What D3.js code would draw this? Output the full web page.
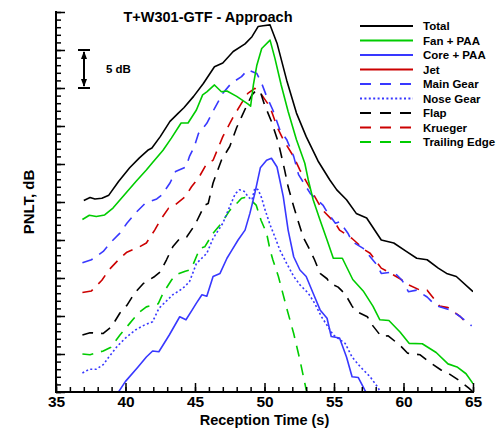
<!DOCTYPE html>
<html>
<head>
<meta charset="utf-8">
<script src="https://cdn.jsdelivr.net/npm/d3@7"></script>
<style>
  html, body { margin: 0; padding: 0; background: #fff; }
  svg { display: block; font-family: "Liberation Sans", Arial, Helvetica, sans-serif; }
</style>
</head>
<body>
<svg id="chart" width="498" height="429"></svg>
<script>
// PNLT time histories per noise component, [reception time (s), PNLT (dB)]
const total = [[37.0,75.2],[37.45,75.6],[37.8,75.4],[38.3,75.5],[38.8,75.9],[39.5,77.7],[40.3,79.5],[41.0,80.8],[41.6,81.8],[41.9,82.1],[42.5,83.6],[43.2,85.6],[43.8,86.7],[44.2,87.4],[44.9,88.9],[45.6,90.6],[46.4,92.8],[47.0,93.3],[47.75,94.8],[48.6,95.8],[49.1,96.75],[49.55,98.1],[49.9,98.2],[50.4,98.3],[50.9,95.9],[51.6,91.0],[52.3,86.7],[53.0,83.6],[53.85,80.4],[54.7,77.9],[55.2,76.6],[55.9,75.3],[56.6,73.5],[57.35,72.9],[58.4,70.0],[59.3,69.6],[60.2,68.5],[60.95,67.6],[61.7,67.4],[62.5,66.3],[63.1,65.6],[63.8,65.2],[65.0,63.2]];
const fanPaa = [[36.9,72.7],[37.4,73.25],[37.9,73.1],[38.5,73.3],[39.1,74.2],[39.8,75.7],[40.75,77.7],[41.5,79.2],[41.95,80.2],[42.7,81.8],[43.3,83.4],[44.0,85.4],[44.5,85.4],[45.1,87.1],[45.55,89.1],[45.85,89.5],[46.4,90.4],[46.9,89.5],[47.3,89.6],[48.0,88.9],[48.8,87.9],[49.0,87.6],[49.2,90.4],[49.45,93.0],[49.8,95.2],[50.4,96.3],[50.75,93.9],[51.2,90.4],[51.7,86.9],[52.3,83.2],[52.9,80.1],[53.15,77.9],[53.5,75.3],[54.0,72.6],[54.5,70.0],[54.95,67.6],[55.6,67.6],[56.35,64.8],[57.1,63.3],[57.8,61.3],[58.3,59.5],[58.95,59.4],[59.75,57.9],[60.4,56.4],[61.35,56.35],[62.35,55.2],[63.2,53.7],[63.85,53.3],[64.5,52.4],[65.0,51.1]];
const corePaa = [[39.35,49.6],[40.0,51.4],[40.9,53.3],[41.5,54.6],[41.95,55.4],[42.4,55.3],[43.15,57.5],[43.9,59.9],[44.35,59.5],[44.8,60.8],[45.1,61.7],[45.5,62.8],[45.85,62.6],[46.3,65.2],[46.8,65.6],[47.3,67.6],[47.6,68.5],[48.1,70.0],[48.6,71.3],[48.95,73.5],[49.3,76.1],[49.7,79.5],[50.15,80.5],[50.5,80.75],[50.9,79.6],[51.1,77.9],[51.35,75.7],[51.7,71.3],[52.1,67.8],[52.55,66.05],[53.0,65.2],[53.5,63.0],[54.0,60.8],[54.5,59.7],[54.8,57.3],[55.4,57.1],[55.9,54.6],[56.3,52.0],[56.75,51.9],[57.2,50.3],[57.45,49.5]];
// jet noise stays below the plotted range
const jet = [];
const mainGear = [[36.9,67.0],[37.55,67.4],[38.4,68.5],[39.0,69.8],[39.6,70.9],[40.1,72.2],[40.8,73.7],[41.4,74.8],[42.25,75.4],[42.6,75.9],[43.2,77.5],[43.6,79.0],[44.35,79.6],[44.6,81.0],[44.95,82.3],[45.25,84.0],[45.85,85.35],[46.4,87.3],[47.0,89.3],[47.6,90.6],[48.35,91.5],[48.8,92.4],[49.45,91.9],[49.8,90.6],[50.15,88.9],[50.6,87.1],[51.1,84.5],[51.6,83.2],[52.1,81.0],[52.45,78.6],[53.3,76.1],[54.2,74.6],[54.5,73.7],[55.1,72.2],[55.4,72.4],[56.0,70.9],[56.3,69.8],[57.1,68.9],[58.1,66.7],[58.4,65.6],[59.3,65.8],[59.9,64.7],[60.35,63.2],[60.95,63.4],[61.7,62.5],[62.3,61.4],[63.35,60.8],[64.1,59.9],[64.9,58.7]];
const noseGear = [[36.9,52.5],[37.4,53.0],[37.9,53.0],[38.4,53.6],[38.8,54.6],[39.4,56.0],[40.0,57.1],[40.75,58.2],[41.35,58.8],[41.95,59.25],[42.4,61.0],[42.9,61.9],[43.4,62.8],[44.1,63.6],[44.6,64.5],[45.1,66.9],[45.85,68.25],[46.3,70.2],[47.0,72.2],[47.5,74.4],[47.9,76.1],[48.2,76.6],[48.6,76.35],[48.8,75.7],[49.1,75.3],[49.3,76.8],[49.55,76.6],[49.8,75.5],[50.0,74.2],[50.4,72.0],[50.75,70.4],[51.1,68.7],[51.6,66.9],[52.1,65.2],[52.55,64.1],[53.15,63.0],[53.6,61.7],[54.1,59.9],[54.95,57.5],[55.8,56.4],[56.3,54.6],[56.9,53.3],[57.6,52.0],[58.2,50.5],[58.4,49.5]];
const flap = [[36.9,57.5],[37.45,57.8],[38.4,57.7],[39.0,58.6],[39.6,60.4],[40.1,61.4],[40.65,63.0],[41.3,64.3],[42.1,65.2],[42.5,65.8],[42.95,67.4],[43.4,69.1],[43.9,70.2],[44.4,70.4],[45.0,72.0],[45.4,73.5],[45.7,74.6],[45.95,74.8],[46.3,77.5],[46.9,80.5],[47.5,82.3],[48.0,84.8],[48.35,86.2],[48.8,88.0],[49.1,89.1],[49.4,89.7],[49.7,89.5],[50.0,87.8],[50.5,85.6],[51.0,82.8],[51.45,79.2],[51.7,77.0],[52.1,74.4],[52.4,72.6],[52.8,70.3],[53.15,69.1],[53.6,67.4],[54.0,65.6],[54.5,64.9],[54.7,64.3],[55.3,63.8],[55.8,62.9],[56.3,61.3],[56.6,60.6],[57.4,59.9],[57.8,58.7],[58.4,57.3],[58.9,57.4],[59.8,56.05],[60.3,55.1],[61.2,54.9],[61.8,54.0],[62.7,52.9],[63.2,52.5],[64.1,51.4],[64.7,50.5],[64.95,50.1]];
const krueger = [[36.9,63.1],[37.55,63.3],[38.3,64.7],[38.8,66.05],[39.5,67.4],[40.1,68.4],[41.0,69.1],[41.5,69.6],[42.1,71.3],[42.5,72.6],[43.1,74.2],[43.55,74.6],[44.3,75.7],[44.75,77.0],[45.3,78.3],[45.8,79.9],[46.3,80.5],[47.0,83.6],[47.75,86.2],[48.35,88.0],[48.8,89.3],[49.3,89.96],[49.8,89.1],[50.4,87.5],[50.9,84.9],[51.35,83.2],[52.1,80.96],[52.55,79.2],[53.0,77.7],[53.5,76.1],[53.9,74.8],[54.2,73.9],[55.1,72.2],[55.4,71.3],[56.3,70.2],[56.6,69.7],[57.2,68.7],[57.6,68.25],[58.4,66.3],[58.9,65.8],[59.75,64.9],[60.35,64.1],[61.2,63.4],[61.7,63.4],[62.6,61.3],[63.2,61.1],[64.1,59.9],[64.7,58.7]];
const trailingEdge = [[36.9,55.0],[37.45,54.9],[38.4,55.4],[38.95,55.9],[39.6,57.5],[40.2,58.8],[40.9,60.35],[41.5,61.2],[42.35,61.6],[42.7,63.0],[43.3,64.7],[43.6,65.4],[44.3,65.9],[44.6,66.05],[44.8,66.5],[45.35,68.9],[45.7,69.1],[46.3,70.9],[46.9,72.2],[47.5,73.9],[48.1,75.0],[48.35,75.5],[48.6,75.6],[49.1,75.1],[49.4,74.6],[49.75,72.6],[50.15,70.9],[50.4,68.7],[50.6,67.4],[51.0,65.2],[51.6,61.0],[52.1,57.7],[52.55,54.2],[53.0,50.3],[53.15,49.5]];

const seriesNames = ["Total", "Fan + PAA", "Core + PAA", "Jet", "Main Gear", "Nose Gear", "Flap", "Krueger", "Trailing Edge"];
const seriesData = [total, fanPaa, corePaa, jet, mainGear, noseGear, flap, krueger, trailingEdge];
const seriesColors = ["#000000", "#00cc00", "#3838ff", "#cc0000", "#3838ff", "#3838ff", "#000000", "#cc0000", "#00cc00"];
const seriesDash = ["none", "none", "none", "none", "11,8", "2,2.4", "11,8", "11,8", "11,8"];

const xTicks = [35, 40, 45, 50, 55, 60, 65];
const chartTitle = "T+W301-GTF - Approach";
const xTitle = "Reception Time (s)";
const yTitle = "PNLT, dB";
const scaleBarLabel = "5 dB";

const svg = d3.select("#chart");
const margin = { left: 56, right: 25, top: 12, bottom: 37 };
const W = 498, H = 429;
const x = d3.scaleLinear().domain([35, 65]).range([margin.left, W - margin.right]);
const y = d3.scaleLinear().domain([50, 100]).range([H - margin.bottom, margin.top]);

svg.append("defs").append("clipPath").attr("id", "plotClip")
  .append("rect")
  .attr("x", x(35)).attr("y", y(100))
  .attr("width", x(65) - x(35)).attr("height", y(50) - y(100));

// Curves
const line = d3.line().x(d => x(d[0])).y(d => y(d[1]));
const plot = svg.append("g").attr("clip-path", "url(#plotClip)");
const drawOrder = [8, 7, 6, 5, 4, 3, 2, 1, 0];
drawOrder.forEach(i => {
  if (!seriesData[i].length) return;
  plot.append("path")
    .datum(seriesData[i])
    .attr("fill", "none")
    .attr("stroke", seriesColors[i])
    .attr("stroke-width", 1.6)
    .attr("stroke-dasharray", seriesDash[i])
    .attr("stroke-linejoin", "round")
    .attr("d", line);
});

// Bottom axis: major ticks every 5 s, minor every 1 s, pointing inward
const xAxisG = svg.append("g").attr("transform", `translate(0,${y(50)})`);
xAxisG.call(d3.axisBottom(x).tickValues(d3.range(35, 66, 1)).tickSize(-5).tickFormat(""))
  .call(g => g.select(".domain").remove());
xAxisG.append("g").call(d3.axisBottom(x).tickValues(xTicks).tickSize(-9).tickFormat(d3.format("d")))
  .call(g => g.select(".domain").remove())
  .call(g => g.selectAll("text")
    .attr("y", 4).attr("dy", "0.71em")
    .style("font-size", "15.5px").style("font-weight", "bold")
    .style("font-family", "'Liberation Sans', Arial, sans-serif").attr("fill", "#000"));
xAxisG.selectAll("line").attr("stroke", "#000").attr("stroke-width", 1.5);
xAxisG.append("line").attr("x1", x(35) - 1).attr("x2", x(65) + 1).attr("y1", 0).attr("y2", 0)
  .attr("stroke", "#000").attr("stroke-width", 2);

// Left axis: unlabelled, major ticks every 5 dB, minor every 1 dB
const yAxisG = svg.append("g").attr("transform", `translate(${x(35)},0)`);
yAxisG.call(d3.axisLeft(y).tickValues(d3.range(50, 101, 1)).tickSize(-5).tickFormat(""))
  .call(g => g.select(".domain").remove());
yAxisG.append("g").call(d3.axisLeft(y).tickValues(d3.range(50, 101, 5)).tickSize(-9).tickFormat(""))
  .call(g => g.select(".domain").remove());
yAxisG.selectAll("line").attr("stroke", "#000").attr("stroke-width", 1.5);
yAxisG.append("line").attr("x1", 0).attr("x2", 0).attr("y1", y(100) - 1).attr("y2", y(50) + 1)
  .attr("stroke", "#000").attr("stroke-width", 2);

// Titles
svg.append("text").attr("x", 208).attr("y", 22).attr("text-anchor", "middle")
  .style("font-size", "14.5px").style("font-weight", "bold").text(chartTitle);
svg.append("text").attr("x", (x(35) + x(65)) / 2).attr("y", 425).attr("text-anchor", "middle")
  .style("font-size", "14.5px").style("font-weight", "bold").text(xTitle);
svg.append("text").attr("transform", `translate(34,${(y(50) + y(100)) / 2}) rotate(-90)`)
  .attr("text-anchor", "middle")
  .style("font-size", "15px").style("font-weight", "bold").text(yTitle);

// 5 dB scale bar
const barX = 84, barTop = y(95), barBot = y(90);
const bar = svg.append("g").attr("stroke", "#000").attr("stroke-width", 2);
bar.append("line").attr("x1", barX).attr("x2", barX).attr("y1", barTop + 2).attr("y2", barBot - 2);
bar.append("line").attr("x1", barX - 6).attr("x2", barX + 6).attr("y1", barTop).attr("y2", barTop);
bar.append("line").attr("x1", barX - 6).attr("x2", barX + 6).attr("y1", barBot).attr("y2", barBot);
svg.append("path").attr("d", `M${barX},${barTop + 1}L${barX - 3},${barTop + 9}L${barX + 3},${barTop + 9}Z`).attr("fill", "#000");
svg.append("path").attr("d", `M${barX},${barBot - 1}L${barX - 3},${barBot - 9}L${barX + 3},${barBot - 9}Z`).attr("fill", "#000");
svg.append("text").attr("x", 106).attr("y", (barTop + barBot) / 2 + 4)
  .style("font-size", "11.5px").style("font-weight", "bold").text(scaleBarLabel);

// Legend
const legend = svg.append("g");
seriesNames.forEach((name, i) => {
  const ly = 26 + i * 14.5;
  legend.append("line").attr("x1", 360).attr("x2", 413).attr("y1", ly).attr("y2", ly)
    .attr("stroke", seriesColors[i]).attr("stroke-width", 1.8)
    .attr("stroke-dasharray", seriesDash[i] === "none" ? "none" : (seriesDash[i] === "2,2.4" ? "2,2.4" : "11,9"));
  legend.append("text").attr("x", 423).attr("y", ly + 4)
    .style("font-size", "11.5px").style("font-weight", "bold").text(name);
});
</script>
</body>
</html>
